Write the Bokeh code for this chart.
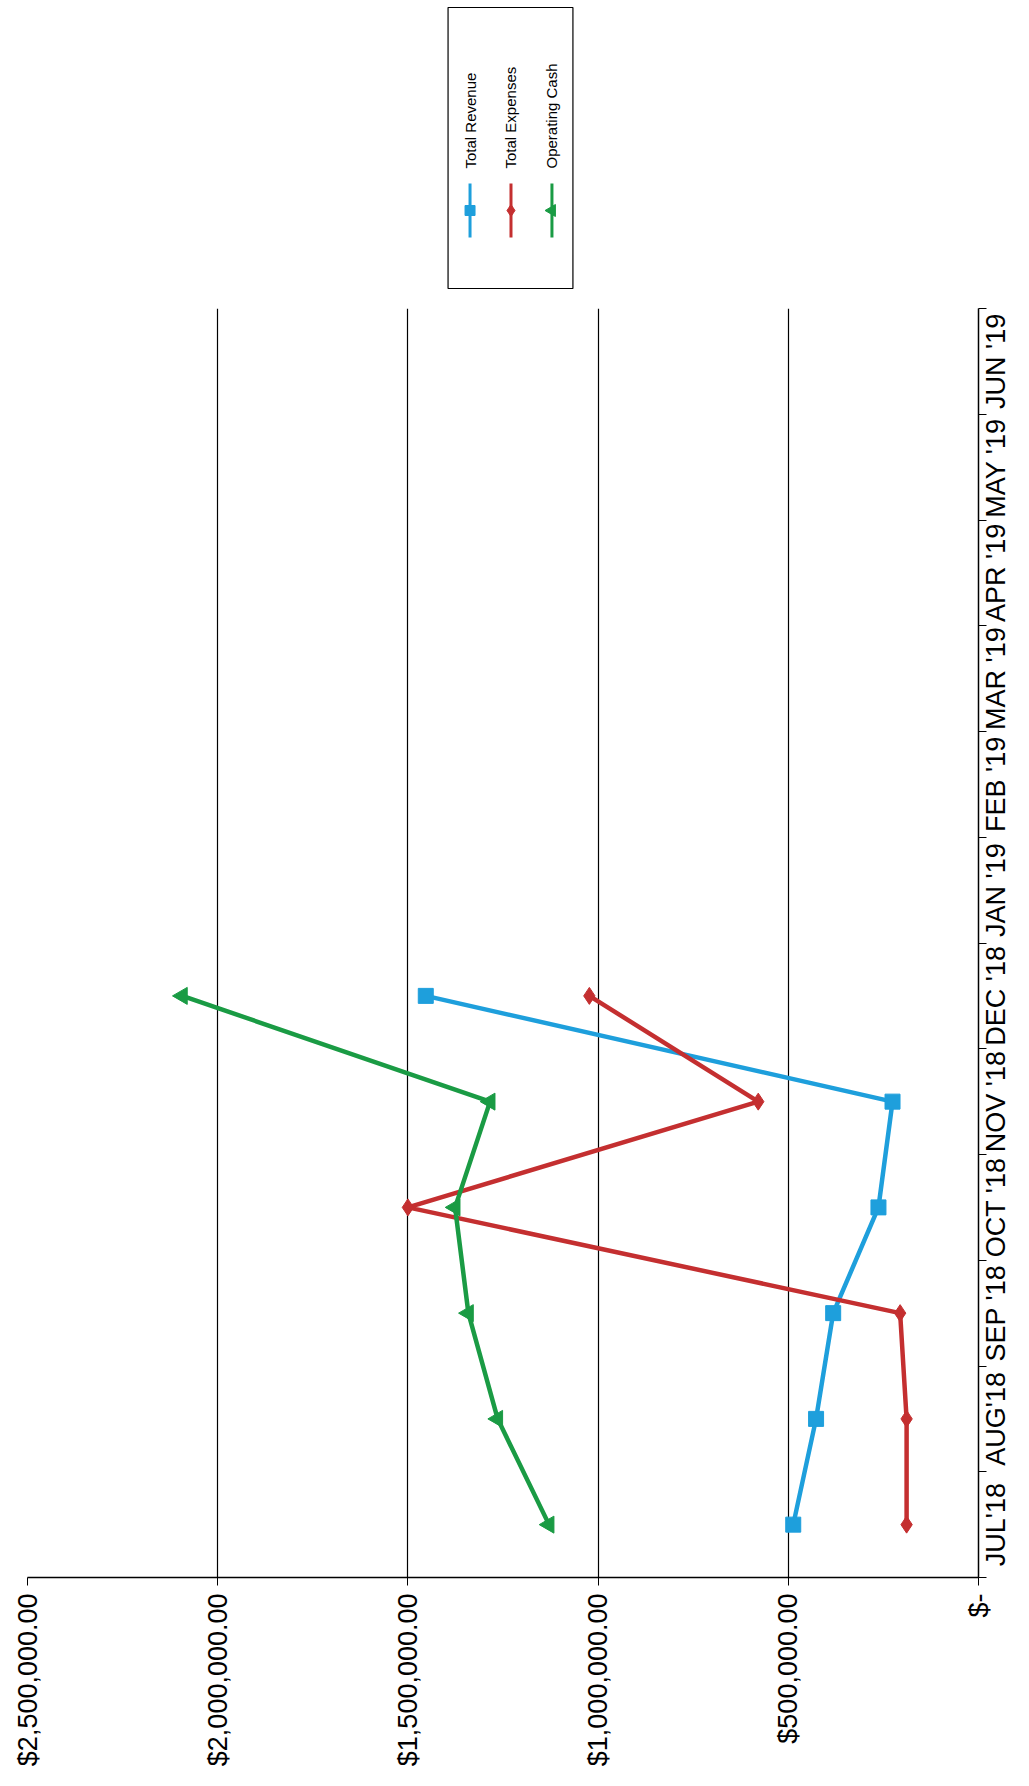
import math
from bokeh.plotting import figure
from bokeh.layouts import column
from bokeh.models import Range1d, FixedTicker
from bokeh.embed import file_html
from bokeh.resources import INLINE
from bokeh.core.properties import value

# ---------------- data ----------------
months = ["JUL'18", "AUG'18", "SEP '18", "OCT '18", "NOV '18", "DEC '18",
          "JAN '19", "FEB '19", "MAR '19", "APR '19", "MAY '19", "JUN '19"]
revenue = [487000, 427000, 382000, 263000, 226000, 1453000]
expenses = [189000, 189000, 206000, 1500000, 579000, 1023000]
cash = [1129000, 1264000, 1341000, 1376000, 1284000, 2093000]
value_ticks = [0, 500000, 1000000, 1500000, 2000000, 2500000]
value_labels = ["$-", "$500,000.00", "$1,000,000.00", "$1,500,000.00",
                "$2,000,000.00", "$2,500,000.00"]
series_names = ["Total Revenue", "Total Expenses", "Operating Cash"]

# ---------------- styles ----------------
FONT = "Liberation Sans"
colors = ["#1E9FDC", "#C42F30", "#1A9B44"]
markers = ["square", "diamond", "triangle"]
marker_sizes = [15, 17, 17]
marker_angles = [0, 0, math.pi / 2]

W = 1029
LEG_H = 300
BAR_H = 6
MAIN_H = 1786 - LEG_H - BAR_H
FRAME_L = 27
FRAME_R = 979
TOP_B = 8
BOT_B = 203
MONTH_FONT_PX = 27

# approximate advance widths (em) of the label font, used to centre the
# rotated month labels inside their category slots
CHAR_EM = {"J": .5, "U": .722, "L": .556, "'": .191, "1": .556, "8": .556, "9": .556,
           "A": .667, "G": .778, "S": .667, "E": .667, "P": .667, " ": .278, "O": .778,
           "C": .722, "T": .611, "N": .722, "V": .667, "D": .722, "F": .611, "B": .667,
           "M": .833, "R": .722, "Y": .667}

def text_px(s, size):
    return sum(CHAR_EM.get(c, .6) for c in s) * size

# ---------------- legend (rotated, drawn by hand; x in page pixels) ----------------
leg = figure(width=W, height=LEG_H, x_range=Range1d(FRAME_L, FRAME_R), y_range=Range1d(LEG_H, 0),
             title=None, toolbar_location=None, output_backend="svg", min_border=0,
             min_border_left=FRAME_L, min_border_right=W - FRAME_R,
             x_axis_location=None, y_axis_location=None)
leg.grid.visible = False
leg.outline_line_color = None
leg.quad(left=[448], right=[573], top=[7], bottom=[288], fill_color="white",
         line_color="black", line_width=1.2)
leg_x = [470, 511, 552]
for i, name in enumerate(series_names):
    x = leg_x[i]
    leg.segment(x0=[x], y0=[183], x1=[x], y1=[237], line_color=colors[i], line_width=3)
    leg.scatter(x=[x], y=[210], marker=markers[i], size=marker_sizes[i] - 5,
                angle=marker_angles[i], color=colors[i])
    leg.text(x=[x], y=[168], text=[name], angle=math.pi / 2, text_align="left",
             text_baseline="middle", text_font=value(FONT), text_font_size="15px",
             text_color="black")

# ---------------- main chart (rotated 90 degrees) ----------------
p = figure(width=W, height=MAIN_H, x_range=Range1d(2500000, 0), y_range=Range1d(0, 12),
           title=None, y_axis_location="right", toolbar_location=None, output_backend="svg",
           min_border_left=FRAME_L, min_border_right=W - FRAME_R, min_border_top=TOP_B,
           min_border_bottom=BOT_B)
p.outline_line_color = None
p.background_fill_color = "white"

xa = p.xaxis[0]
xa.ticker = FixedTicker(ticks=value_ticks)
xa.major_label_overrides = {t: l for t, l in zip(value_ticks, value_labels)}
xa.major_label_orientation = math.pi / 2
xa.major_label_text_font = FONT
xa.major_label_text_font_size = "27px"
xa.major_label_text_color = "black"
xa.major_label_standoff = 8
xa.major_tick_out = 8
xa.major_tick_in = 0
xa.minor_tick_line_color = None
xa.axis_line_color = "black"
xa.axis_line_width = 1.5
xa.major_tick_line_color = "black"

# category slots: month i occupies [i, i+1]; labels are rotated and start at
# their anchor, so the anchor is moved down by half the label length
slot_px = (MAIN_H - TOP_B - BOT_B) / len(months)
label_pos = [i + 0.5 - text_px(m, MONTH_FONT_PX) / 2 / slot_px for i, m in enumerate(months)]
ya = p.yaxis[0]
ya.ticker = FixedTicker(ticks=label_pos, minor_ticks=list(range(len(months) + 1)))
ya.major_label_overrides = {c: m for c, m in zip(label_pos, months)}
ya.major_label_orientation = math.pi / 2
ya.major_label_text_font = FONT
ya.major_label_text_font_size = f"{MONTH_FONT_PX}px"
ya.major_label_text_color = "black"
ya.major_label_standoff = 10
ya.major_tick_line_color = None
ya.major_tick_out = 8
ya.major_tick_in = 0
ya.minor_tick_out = 8
ya.minor_tick_in = 0
ya.minor_tick_line_color = "black"
ya.axis_line_color = "black"
ya.axis_line_width = 1.5

p.xgrid.ticker = FixedTicker(ticks=value_ticks)
p.xgrid.grid_line_color = "black"
p.xgrid.grid_line_width = 1.2
p.ygrid.visible = False

ys = [i + 0.5 for i in range(len(revenue))]
for i, data in enumerate([revenue, expenses, cash]):
    p.line(x=data, y=ys, line_color=colors[i], line_width=4.5)
    p.scatter(x=data, y=ys, marker=markers[i], size=marker_sizes[i],
              angle=marker_angles[i], color=colors[i])

# ---------------- bottom strip (scan artifact bar; x in page pixels) ----------------
strip = figure(width=W, height=BAR_H, x_range=Range1d(FRAME_L, FRAME_R), y_range=Range1d(0, 1),
               title=None, toolbar_location=None, output_backend="svg", min_border=0,
               min_border_left=FRAME_L, min_border_right=W - FRAME_R,
               x_axis_location=None, y_axis_location=None)
strip.grid.visible = False
strip.outline_line_color = None
strip.quad(left=[424], right=[557], bottom=[-1], top=[2], fill_color="black",
           line_color="black")

layout = column(leg, p, strip, spacing=0)
open("out.html", "w").write(file_html(layout, INLINE))
